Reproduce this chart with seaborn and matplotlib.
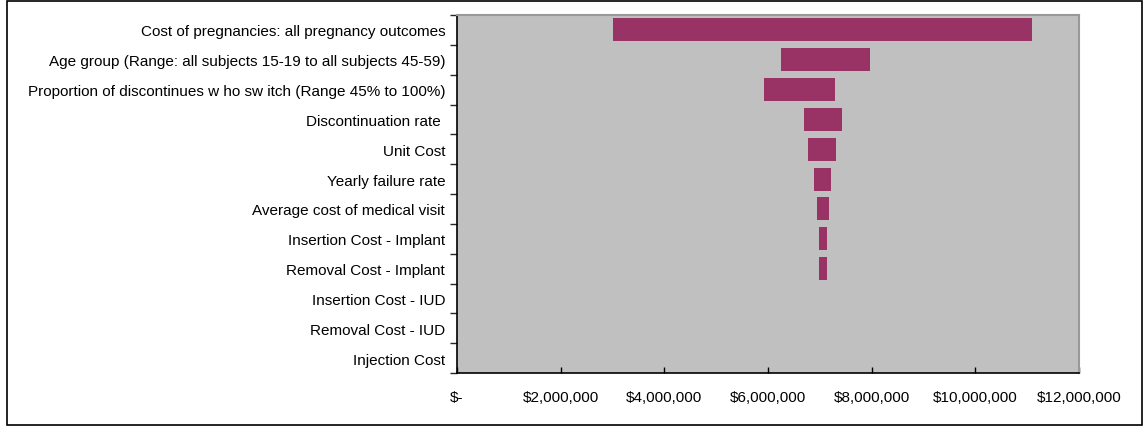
import matplotlib
matplotlib.use("Agg")
import matplotlib.pyplot as plt
import matplotlib.patches as mpatches
from matplotlib.ticker import FuncFormatter
import pandas as pd
import seaborn as sns

# Tornado chart data
parameters = [
    "Cost of pregnancies: all pregnancy outcomes",
    "Age group (Range: all subjects 15-19 to all subjects 45-59)",
    "Proportion of discontinues w ho sw itch (Range 45% to 100%)",
    "Discontinuation rate ",
    "Unit Cost",
    "Yearly failure rate",
    "Average cost of medical visit",
    "Insertion Cost - Implant",
    "Removal Cost - Implant",
    "Insertion Cost - IUD",
    "Removal Cost - IUD",
    "Injection Cost",
]
low_values = [3010000, 6250000, 5920000, 6690000, 6770000, 6890000,
              6940000, 6980000, 6980000, 7060000, 7060000, 7060000]
high_values = [11090000, 7970000, 7290000, 7430000, 7310000, 7210000,
               7170000, 7140000, 7140000, 7060000, 7060000, 7060000]
x_ticks = [0, 2000000, 4000000, 6000000, 8000000, 10000000, 12000000]

df = pd.DataFrame({"parameter": parameters, "low": low_values, "high": high_values})
df["span"] = df["high"] - df["low"]

sns.set_style("white")
plt.rcParams["font.family"] = ["Liberation Sans", "DejaVu Sans"]

fig = plt.figure(figsize=(11.44, 4.27), dpi=100)
ax = fig.add_axes([0.3995, 0.1241, 0.5437, 0.8384])
ax.set_facecolor("#C0C0C0")

# floating bars from low to high
sns.barplot(data=df, x="span", y="parameter", order=parameters, orient="h",
            color="#993366", saturation=1, width=0.77, linewidth=0,
            left=df["low"].tolist(), ax=ax)

ax.set_xlim(0, 12000000)
ax.set_xticks(x_ticks)
ax.xaxis.set_major_formatter(FuncFormatter(lambda v, p: "$-" if v == 0 else f"${v:,.0f}"))
ax.set_xlabel("")
ax.set_ylabel("")

ax.tick_params(axis="x", direction="in", length=4, width=1, pad=12,
               labelsize=11, colors="black", bottom=True)
ax.tick_params(axis="y", which="major", length=0, pad=8.5,
               labelsize=11, colors="black")
# y ticks between categories like Excel
ax.set_yticks([i - 0.5 for i in range(len(parameters) + 1)], minor=True)
ax.tick_params(axis="y", which="minor", direction="out", length=5, width=1, left=True)

for side in ["left", "bottom"]:
    ax.spines[side].set_color("black")
    ax.spines[side].set_linewidth(1.2)
for side in ["top", "right"]:
    ax.spines[side].set_color("#999999")
    ax.spines[side].set_linewidth(1.5)

# outer chart border
fig.patches.append(mpatches.Rectangle((0.0061, 0.0023), 0.992, 0.993,
                                      transform=fig.transFigure, fill=False,
                                      edgecolor="black", linewidth=1.2))

fig.savefig("out.png", dpi=100)
